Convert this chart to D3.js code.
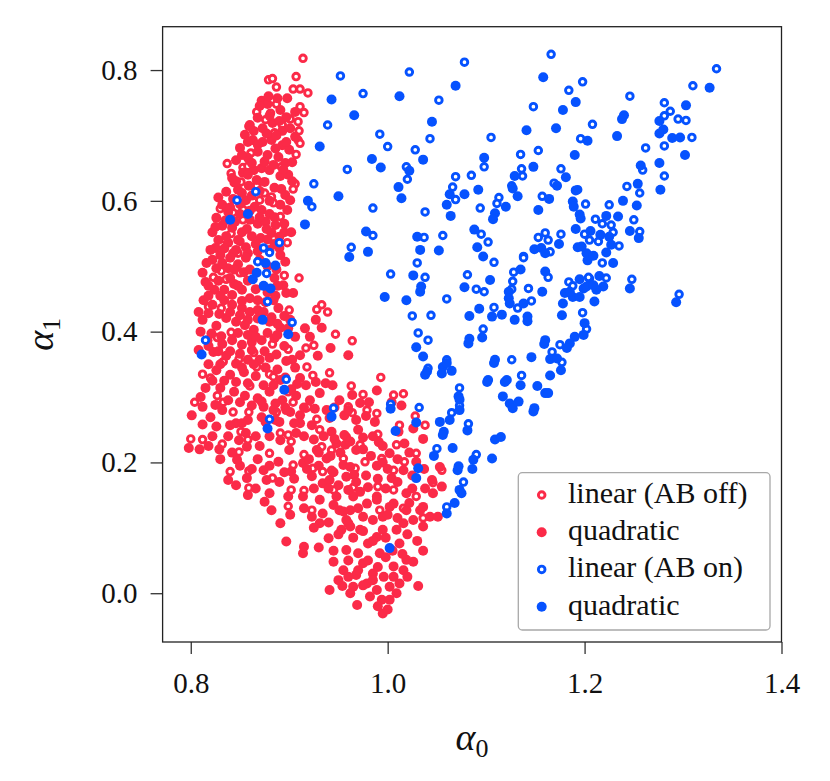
<!DOCTYPE html>
<html>
<head>
<meta charset="utf-8">
<script src="https://cdn.jsdelivr.net/npm/d3@7"></script>
<style>
  body { margin: 0; background: #fff; }
  svg { display: block; }
  svg text { font-family: "Liberation Serif", "Times New Roman", Tinos, Times, "DejaVu Serif", "Noto Serif", serif !important; fill: #111; }
</style>
</head>
<body>
<div id="chart"></div>
<script>
// Data: [alpha0, alpha1]
const redLinear = [
  [.914,.818],[.879,.785],[.883,.787],[.887,.774],[.907,.790],[.904,.771],[.911,.771],[.919,.765],[.887,.748],[.867,.736],
  [.911,.744],[.915,.735],[.881,.734],[.901,.725],[.859,.714],[.876,.724],[.893,.716],[.909,.721],[.885,.704],[.910,.707],
  [.909,.693],[.911,.688],[.861,.673],[.907,.671],[.892,.652],[.837,.657],[.841,.642],[.853,.651],[.858,.653],[.844,.628],
  [.851,.629],[.906,.626],[.904,.618],[.875,.612],[.882,.606],[.884,.597],[.870,.601],[.891,.576],[.853,.571],[.843,.582],
  [.830,.588],[.867,.623],[.853,.587],
  [.841,.550],[.850,.538],[.831,.533],[.848,.520],[.898,.536],[.831,.493],[.823,.483],[.836,.480],[.850,.490],[.895,.486],
  [.910,.482],[.818,.438],[.831,.436],[.900,.433],[.928,.434],[.933,.441],[.939,.430],[.827,.391],[.841,.399],[.864,.368],
  [.883,.381],[.899,.373],[.917,.375],[.925,.379],[.947,.396],[.964,.386],[.833,.354],[.849,.358],[.867,.346],[.880,.335],
  [.918,.346],[.924,.333],[.941,.337],[.812,.335],[.820,.329],[.860,.317],[.884,.331],[.827,.302],[.833,.292],[.804,.292],
  [.843,.277],[.859,.277],[.887,.277],[.904,.292],[.917,.283],[.928,.266],[.963,.317],[.975,.304],[.964,.276],[.979,.280],
  [.899,.308],
  [.800,.236],[.812,.235],[.832,.228],[.851,.247],[.858,.235],[.849,.216],[.840,.186],[.859,.187],[.859,.161],[.883,.176],
  [.880,.214],[.891,.245],[.899,.242],[.902,.232],[.904,.196],[.915,.212],[.902,.158],[.915,.157],[.899,.133],[.931,.250],
  [.919,.285],[.924,.191],[.934,.186],[.943,.188],[.933,.224],[.943,.219],[.955,.206],[.960,.285],[.967,.191],[.945,.158],
  [.965,.162],[.958,.239],[.992,.127],[1.016,.130],[1.036,.115],[1.006,.158],[1.029,.148],[1.046,.169],[1.055,.188],[1.029,.214],
  [1.038,.257],[1.012,.257],[1.009,.227],[1.017,.201],[.990,.243],[.972,.227],[.990,.163],[.993,.330],[1.006,.303],[1.016,.305],
  [.989,.275],[1.028,.271],[.994,.206],[1.006,.188],[.923,.127],[.977,.201]
];

const redQuadratic = [
  // upper lobe
  [.872,.753],[.878,.748],[.891,.739],[.898,.757],[.897,.728],[.868,.727],[.860,.716],[.873,.711],[.883,.719],[.893,.707],
  [.901,.711],[.906,.698],[.855,.701],[.863,.693],[.873,.690],[.882,.693],[.893,.685],[.900,.678],[.850,.681],[.858,.666],
  [.868,.675],[.878,.670],[.889,.667],[.896,.658],[.903,.659],[.846,.662],[.853,.643],[.864,.647],[.872,.650],[.880,.647],
  [.891,.638],[.899,.640],[.842,.635],[.848,.617],[.859,.623],[.867,.632],[.875,.629],[.896,.609],[.901,.601],[.836,.614],
  [.843,.603],[.856,.601],[.865,.591],[.872,.586],[.880,.580],[.891,.594],[.898,.586],[.832,.594],[.838,.583],[.850,.580],
  [.860,.571],[.868,.565],[.876,.568],[.886,.563],[.895,.565],[.826,.574],[.832,.562],[.842,.559],[.852,.552],[.862,.546],
  [.871,.543],[.882,.551],[.895,.552],[.822,.552],[.828,.540],[.838,.536],[.846,.525],[.856,.529],[.866,.534],[.885,.534],
  [.902,.552],[.906,.736],
  [.888,.757],[.879,.760],[.870,.745],[.880,.730],[.890,.722],[.864,.707],[.877,.703],[.887,.700],
  [.897,.690],[.868,.686],[.858,.690],[.886,.680],[.875,.660],[.884,.655],[.862,.658],[.852,.670],[.894,.648],[.903,.630],
  [.858,.640],[.885,.620],[.892,.618],[.846,.630],[.852,.612],[.862,.608],[.870,.615],[.880,.600],[.850,.595],[.840,.590],
  [.828,.605],[.860,.585],[.885,.575],[.870,.575],[.845,.568],[.835,.570],[.825,.560],[.857,.557],[.877,.557],[.890,.545],
  [.878,.541],[.848,.540],[.836,.546],[.825,.528],[.834,.527],[.843,.520],[.858,.520],[.868,.523],[.880,.525],[.890,.528],
  // middle
  [.820,.525],[.830,.517],[.840,.513],[.856,.513],[.891,.517],[.896,.507],[.816,.505],[.826,.497],[.838,.497],[.848,.503],
  [.854,.491],[.885,.482],[.894,.471],[.815,.476],[.824,.464],[.834,.464],[.844,.473],[.852,.464],[.860,.451],[.868,.448],
  [.886,.455],[.897,.459],[.904,.459],[.813,.448],[.822,.441],[.834,.448],[.842,.441],[.852,.436],[.860,.430],[.868,.433],
  [.889,.436],[.895,.424],[.812,.418],[.826,.409],[.836,.421],[.846,.415],[.855,.410],[.864,.403],[.880,.415],[.891,.406],
  [.901,.418],[.927,.418],[.933,.406],[.817,.387],[.832,.381],[.842,.387],[.852,.380],[.862,.384],[.872,.387],[.885,.390],
  [.895,.378],[.911,.364],[.921,.392],[.942,.375],[.960,.364],[.823,.369],[.836,.363],[.846,.351],[.858,.357],[.870,.357],
  [.880,.360],[.903,.357],[.929,.363],[.826,.341],[.840,.334],[.854,.338],[.866,.332],[.874,.318],[.891,.326],[.911,.329],
  [.927,.323],[.937,.321],[.944,.318],[.917,.318],[.815,.314],[.830,.314],[.844,.308],[.855,.302],[.868,.298],[.880,.308],
  [.893,.295],[.907,.302],[.921,.295],[.931,.306],[.951,.295],[.972,.291],[.964,.303],[.981,.292],[1.004,.292],[.801,.272],
  [.820,.269],[.832,.280],[.846,.260],[.858,.265],[.872,.269],[.886,.265],[.901,.277],[.911,.272],[.923,.257],[.941,.268],
  [.956,.272],[.968,.265],[.978,.271],
  [.822,.510],[.832,.505],[.844,.495],[.860,.495],[.870,.510],[.878,.500],[.887,.495],[.812,.490],[.818,.470],[.828,.478],
  [.840,.482],[.848,.470],[.858,.478],[.866,.465],[.878,.460],[.888,.470],[.818,.455],[.830,.455],[.842,.456],[.852,.447],
  [.876,.445],[.884,.448],[.808,.430],[.818,.428],[.829,.427],[.840,.430],[.850,.425],[.858,.418],[.868,.420],[.874,.430],
  [.882,.422],[.888,.412],[.899,.405],[.810,.400],[.821,.397],[.831,.393],[.848,.398],[.858,.395],[.866,.392],[.878,.398],
  [.888,.395],[.906,.392],[.916,.405],[.808,.372],[.818,.378],[.828,.370],[.840,.370],[.850,.366],[.862,.372],[.875,.370],
  [.887,.365],[.897,.355],[.906,.345],[.818,.350],[.830,.350],[.852,.345],[.864,.350],[.876,.345],[.888,.342],[.896,.330],
  [.908,.320],[.822,.325],[.834,.325],[.846,.323],[.858,.321],[.884,.318],[.902,.312],[.810,.300],[.838,.295],[.850,.292],
  [.862,.287],[.874,.285],[.886,.290],[.896,.284],[.915,.284],[.926,.282],[.946,.284],[.960,.280],[.812,.285],[.825,.288],
  // lower
  [.798,.222],[.809,.220],[.829,.220],[.840,.257],[.852,.260],[.857,.224],[.847,.204],[.838,.173],[.857,.176],[.858,.150],
  [.874,.188],[.877,.173],[.880,.153],[.875,.140],[.882,.127],[.891,.234],[.889,.201],[.902,.186],[.899,.148],[.901,.120],
  [.891,.107],[.914,.148],[.923,.117],[.931,.143],[.934,.168],[.941,.173],[.948,.148],[.951,.127],[.934,.122],[.928,.219],
  [.938,.206],[.943,.247],[.948,.229],[.955,.196],[.962,.193],[.965,.148],[.962,.127],[.911,.260],[.897,.280],[.884,.280],
  [.872,.293],[.938,.280],[.970,.250],[.968,.219],[.960,.107],[.931,.107],[.897,.079],[.915,.071],[.914,.061],[.940,.084],
  [.945,.048],[.955,.035],[.941,.005],[.954,.011],[.965,.010],[.969,-.018],[.968,.028],[.958,.066],[.953,.097],[.962,.102],
  [.972,.097],[.970,.061],[.980,.076],[.975,.046],[.985,.030],[.979,.015],[.989,.005],[.994,-.010],[.995,-.031],[1.002,.010],
  [1.006,.025],[1.012,.015],[1.009,.000],[1.002,-.010],[1.006,.041],[1.016,.035],[1.019,.051],[1.026,.048],[1.031,.011],[1.036,.065],
  [.992,.061],[.989,.086],[.995,.097],[1.009,.097],[1.016,.107],[1.026,.112],[1.036,.102],[1.012,.076],[.995,.117],[.985,.112],
  [.975,.117],[.958,.112],[.979,.137],[.989,.148],[1.006,.137],[1.019,.127],[1.033,.127],[1.043,.117],[1.051,.117],[.989,.310],
  [1.014,.287],[1.026,.252],[1.036,.236],[.987,.262],[1.002,.214],[1.017,.229],[1.029,.201],[1.045,.173],[1.053,.193],[1.046,.153],
  [1.036,.132],[1.019,.153],[1.002,.132],[.989,.143],[1.055,.163],[.849,.234],[.900,.219],[.914,.199],[.923,.179],[.957,.227],
  [.966,.181],[.991,.231],[.989,.195],[1.004,.176],[1.016,.188],[1.011,.247],
  [.925,.235],[.935,.240],[.946,.236],[.956,.242],[.962,.232],[.975,.238],[.985,.240],[.995,.225],[.920,.205],[.930,.215],
  [.942,.210],[.952,.215],[.975,.220],[.983,.210],[.995,.200],[.918,.190],[.930,.195],[.945,.185],[.958,.178],[.968,.170],
  [.978,.180],[.990,.175],[1.000,.190],[1.010,.205],[1.022,.215],[1.025,.180],[1.037,.190],[1.038,.160],[.925,.160],[.940,.160],
  [.950,.165],[.960,.158],[.972,.155],[.980,.162],[.998,.160],[1.010,.170],[1.025,.160],[.915,.130],[.945,.135],[.955,.125],
  [.970,.130],[1.000,.120],[1.010,.115],[1.022,.138],[.925,.100],[.940,.108],[.950,.090],[.965,.085],[.975,.095],[.985,.080],
  [.998,.085],[1.005,.065],[1.020,.090],[1.030,.080],[.930,.070],[.945,.065],[.960,.050],[.970,.035],[.980,.050],[.990,.040],
  [.998,.055],[1.015,.060],[.975,.012],[.985,.020],[.996,.025],[1.020,.025],[.962,.000],[.982,-.005],[.990,-.020],[1.000,-.025],
  [.960,.025],[.950,.020],
  [.812,.258],[.826,.255],[.838,.240],[.822,.240],[.818,.225],[.830,.205],[.842,.215],[.856,.245],[.866,.240],[.870,.225],
  [.880,.240],[.868,.205],[.880,.195],[.862,.190],[.850,.195],[.846,.165],[.866,.160],[.890,.170],[.895,.185],[.905,.175],
  [.907,.245],[.915,.240],[.905,.260],[.890,.262],[.876,.262]
];

const blueLinear = [
  [.975,.764],[1.022,.797],[1.078,.812],[1.166,.824],[1.052,.754],[1.184,.769],[1.148,.744],[.992,.702],[1.000,.683],[1.043,.695],
  [1.028,.678],[1.105,.697],[1.135,.671],[1.153,.677],[1.019,.652],[1.020,.633],[1.098,.652],[1.136,.649],[1.137,.638],[1.176,.649],
  [1.069,.637],[1.085,.639],[1.066,.621],[1.069,.602],[1.126,.623],[1.169,.627],[1.157,.607],[1.113,.605],[1.111,.596],[1.094,.589],
  [.985,.589],[1.038,.583],[.985,.547],[1.037,.544],[1.056,.547],[1.095,.549],[1.102,.537],[1.160,.551],[1.153,.544],[1.163,.540],
  [1.176,.549],[1.165,.522],[1.138,.515],[1.334,.802],[1.310,.776],[1.198,.782],[1.246,.760],[1.281,.750],[1.287,.737],[1.281,.730],
  [1.295,.725],[1.303,.723],[1.309,.697],[1.281,.684],[1.262,.681],[1.208,.717],[1.196,.695],[1.259,.647],[1.281,.638],[1.243,.622],
  [1.256,.612],[1.193,.617],[1.201,.595],[1.225,.594],[1.250,.571],[1.211,.572],[1.218,.565],[1.227,.563],[1.229,.552],[1.256,.553],
  [1.200,.549],[1.205,.540],[1.214,.538],[1.235,.531],[1.218,.505],[1.248,.480],[1.222,.482],[1.205,.481],[1.184,.476],[1.188,.470],
  [1.296,.457],[1.003,.488],[1.030,.505],[1.038,.483],[1.081,.487],[1.108,.506],[1.090,.465],[1.098,.461],[1.060,.450],[1.025,.424],
  [1.044,.425],[1.031,.398],[1.041,.387],[1.097,.404],[1.108,.437],[1.128,.491],[1.127,.477],[1.126,.465],[1.143,.466],[1.146,.447],
  [1.132,.436],[1.138,.513],[1.163,.483],[1.198,.429],[1.204,.483],[1.175,.380],[1.167,.369],[1.177,.353],[1.202,.404],[1.126,.357],
  [1.136,.333],[1.060,.357],[1.041,.344],[1.073,.314],[1.073,.287],[1.032,.284],[1.065,.276],[1.082,.259],[1.050,.221],[1.090,.212],
  [1.077,.170],[1.060,.132],[1.003,.289],
  [.952,.791],[.939,.716],[.959,.648],[.925,.626],[.923,.591],[.866,.614],[.847,.601],[.874,.528],[.880,.521],[.890,.536],
  [.868,.507],[.877,.489],[.878,.446],[.903,.414],[.815,.387],[.897,.327],[.945,.283],[.880,.266],[.963,.529]
];

const blueQuadratic = [
  [1.012,.760],[1.069,.776],[1.158,.789],[1.191,.751],[1.045,.721],[1.141,.708],[1.171,.711],[1.178,.739],[.984,.664],[.993,.651],
  [1.036,.663],[1.022,.646],[1.098,.666],[1.148,.652],[1.190,.670],[1.011,.621],[1.014,.604],[1.092,.617],[1.078,.610],[1.063,.610],
  [1.060,.594],[1.064,.577],[1.120,.591],[1.109,.581],[1.107,.572],[1.129,.638],[1.127,.619],[1.132,.607],[1.153,.586],[1.164,.603],
  [1.172,.623],[1.181,.636],[1.188,.599],[1.189,.591],[1.191,.616],[1.191,.557],[.978,.553],[.980,.522],[1.030,.545],[1.033,.525],
  [1.052,.524],[1.088,.556],[1.091,.529],[1.097,.515],[1.149,.526],[1.156,.528],[1.160,.520],[1.174,.534],[1.193,.529],
  [1.327,.773],[1.303,.746],[1.240,.731],[1.238,.725],[1.276,.722],[1.280,.709],[1.276,.703],[1.289,.696],[1.297,.697],[1.233,.699],
  [1.203,.692],[1.302,.670],[1.257,.654],[1.276,.658],[1.277,.617],[1.254,.626],[1.239,.600],[1.253,.593],[1.195,.579],[1.196,.573],
  [1.222,.577],[1.234,.576],[1.206,.554],[1.216,.548],[1.225,.545],[1.246,.554],[1.255,.543],[1.197,.530],[1.202,.520],[1.203,.509],
  [1.209,.516],[1.222,.521],[1.229,.505],[1.227,.533],[1.246,.466],[1.215,.485],[1.219,.469],[1.195,.480],[1.199,.466],[1.180,.459],
  [1.188,.453],[1.293,.445],
  [.997,.453],[1.019,.448],[1.026,.486],[1.033,.461],[1.034,.469],[1.078,.468],[1.104,.479],[1.093,.435],[1.083,.424],[1.106,.423],
  [1.116,.426],[1.129,.418],[1.142,.423],[1.142,.416],[1.123,.461],[1.123,.451],[1.124,.443],[1.138,.443],[1.135,.495],[1.157,.461],
  [1.160,.492],[1.178,.443],[1.177,.425],[1.185,.461],[1.195,.453],[1.202,.469],[1.212,.464],[1.209,.471],[1.210,.446],[1.200,.413],
  [1.199,.395],[1.190,.392],[1.185,.382],[1.182,.375],[1.160,.387],[1.159,.381],[1.165,.358],[1.172,.359],[1.176,.341],[1.165,.333],
  [1.146,.361],[1.109,.357],[1.108,.352],[1.102,.326],[1.101,.323],[1.121,.326],[1.119,.323],[1.135,.318],[1.152,.317],[1.160,.306],
  [1.163,.306],[1.117,.301],[1.124,.290],[1.127,.283],[1.133,.293],[1.149,.283],[1.148,.278],[1.083,.389],[1.082,.382],[1.096,.391],
  [1.029,.376],[1.036,.362],[1.040,.339],[1.038,.334],[1.056,.346],[1.055,.336],[1.065,.340],[1.060,.352],[1.072,.301],[1.073,.296],
  [1.073,.280],[1.063,.265],[1.053,.262],[1.057,.247],[1.056,.242],[1.081,.249],[1.109,.235],[1.115,.239],[1.066,.222],[1.047,.210],
  [1.072,.194],[1.071,.188],[1.087,.204],[1.086,.190],[1.106,.206],[1.073,.158],[1.075,.153],[1.068,.138],[1.060,.122],[1.031,.191],
  [1.029,.176],[1.008,.248],[1.029,.261],[1.003,.282],[1.002,.069],
  [.858,.580],[.840,.571],[.943,.755],[.966,.731],[.931,.683],[.950,.607],[.919,.600],[.916,.564],[.876,.505],[.886,.501],
  [.867,.490],[.863,.480],[.874,.470],[.881,.466],[.873,.418],[.899,.396],[.811,.365],[.895,.311],[.943,.270],[.961,.514],
  [.878,.252]
];

const xTicks = [0.8, 1.0, 1.2, 1.4];
const yTicks = [0.0, 0.2, 0.4, 0.6, 0.8];
const legendLabels = ["linear (AB off)", "quadratic", "linear (AB on)", "quadratic"];

const RED = "#fb2a48";
const BLUE = "#0652ff";

const W = 830, H = 781;
const plot = { left: 162.6, top: 26.7, right: 781.5, bottom: 642 };

const svg = d3.select("#chart").append("svg")
  .attr("width", W)
  .attr("height", H);

const x = d3.scaleLinear().domain([0.7714, 1.4]).range([plot.left, plot.right]);
const y = d3.scaleLinear().domain([-0.0746, 0.8663]).range([plot.bottom, plot.top]);

svg.append("clipPath").attr("id", "clip")
  .append("rect")
  .attr("x", plot.left).attr("y", plot.top)
  .attr("width", plot.right - plot.left).attr("height", plot.bottom - plot.top);

const pts = svg.append("g").attr("clip-path", "url(#clip)");

function drawOpen(data, color) {
  pts.append("g").selectAll("circle")
    .data(data)
    .enter().append("circle")
    .attr("cx", d => x(d[0]))
    .attr("cy", d => y(d[1]))
    .attr("r", 3.3)
    .attr("fill", "#fff")
    .attr("stroke", color)
    .attr("stroke-width", 2.9);
}
function drawFilled(data, color) {
  pts.append("g").selectAll("circle")
    .data(data)
    .enter().append("circle")
    .attr("cx", d => x(d[0]))
    .attr("cy", d => y(d[1]))
    .attr("r", 5)
    .attr("fill", color);
}

// same order as the original plot: open before filled, red before blue
drawOpen(redLinear, RED);
drawFilled(redQuadratic, RED);
drawOpen(blueLinear, BLUE);
drawFilled(blueQuadratic, BLUE);

// axes
const xAxis = svg.append("g")
  .attr("transform", `translate(0,${plot.bottom})`)
  .call(d3.axisBottom(x).tickValues(xTicks).tickFormat(d3.format(".1f")).tickSize(12).tickPadding(18));
const yAxis = svg.append("g")
  .attr("transform", `translate(${plot.left},0)`)
  .call(d3.axisLeft(y).tickValues(yTicks).tickFormat(d3.format(".1f")).tickSize(12).tickPadding(13));

[xAxis, yAxis].forEach(a => {
  a.attr("font-family", null);
  a.select(".domain").remove();
  a.selectAll(".tick line").attr("stroke", "#333").attr("stroke-width", 1.3);
  a.selectAll(".tick text").attr("font-size", 29);
});

svg.append("rect")
  .attr("x", plot.left).attr("y", plot.top)
  .attr("width", plot.right - plot.left).attr("height", plot.bottom - plot.top)
  .attr("fill", "none")
  .attr("stroke", "#222")
  .attr("stroke-width", 1.3);

// axis labels
const xl = svg.append("text")
  .attr("x", (plot.left + plot.right) / 2)
  .attr("y", 750)
  .attr("text-anchor", "middle")
  .attr("font-size", 38);
xl.append("tspan").attr("font-style", "italic").text("α");
xl.append("tspan").attr("font-size", 26).attr("dy", 7).text("0");

const yl = svg.append("text")
  .attr("transform", `translate(53,${(plot.top + plot.bottom) / 2}) rotate(-90)`)
  .attr("text-anchor", "middle")
  .attr("font-size", 38);
yl.append("tspan").attr("font-style", "italic").text("α");
yl.append("tspan").attr("font-size", 26).attr("dy", 7).text("1");

// legend
const legend = svg.append("g");
legend.append("rect")
  .attr("x", 518.3).attr("y", 472.7)
  .attr("width", 251.7).attr("height", 157.3)
  .attr("rx", 4)
  .attr("fill", "#fff").attr("fill-opacity", 0.85)
  .attr("stroke", "#a8a8a8").attr("stroke-width", 1.3);

const legendItems = [
  { label: legendLabels[0], color: RED, open: true },
  { label: legendLabels[1], color: RED, open: false },
  { label: legendLabels[2], color: BLUE, open: true },
  { label: legendLabels[3], color: BLUE, open: false }
];
const rowY = d3.scalePoint().domain(d3.range(4)).range([495, 606.7]);

legendItems.forEach((d, i) => {
  const cy = rowY(i);
  if (d.open) {
    legend.append("circle").attr("cx", 541.7).attr("cy", cy).attr("r", 3.3)
      .attr("fill", "#fff").attr("stroke", d.color).attr("stroke-width", 2.9);
  } else {
    legend.append("circle").attr("cx", 541.7).attr("cy", cy).attr("r", 5).attr("fill", d.color);
  }
  legend.append("text")
    .attr("x", 568)
    .attr("y", cy + 8)
    .attr("font-size", 30)
    .text(d.label);
});
</script>
</body>
</html>
